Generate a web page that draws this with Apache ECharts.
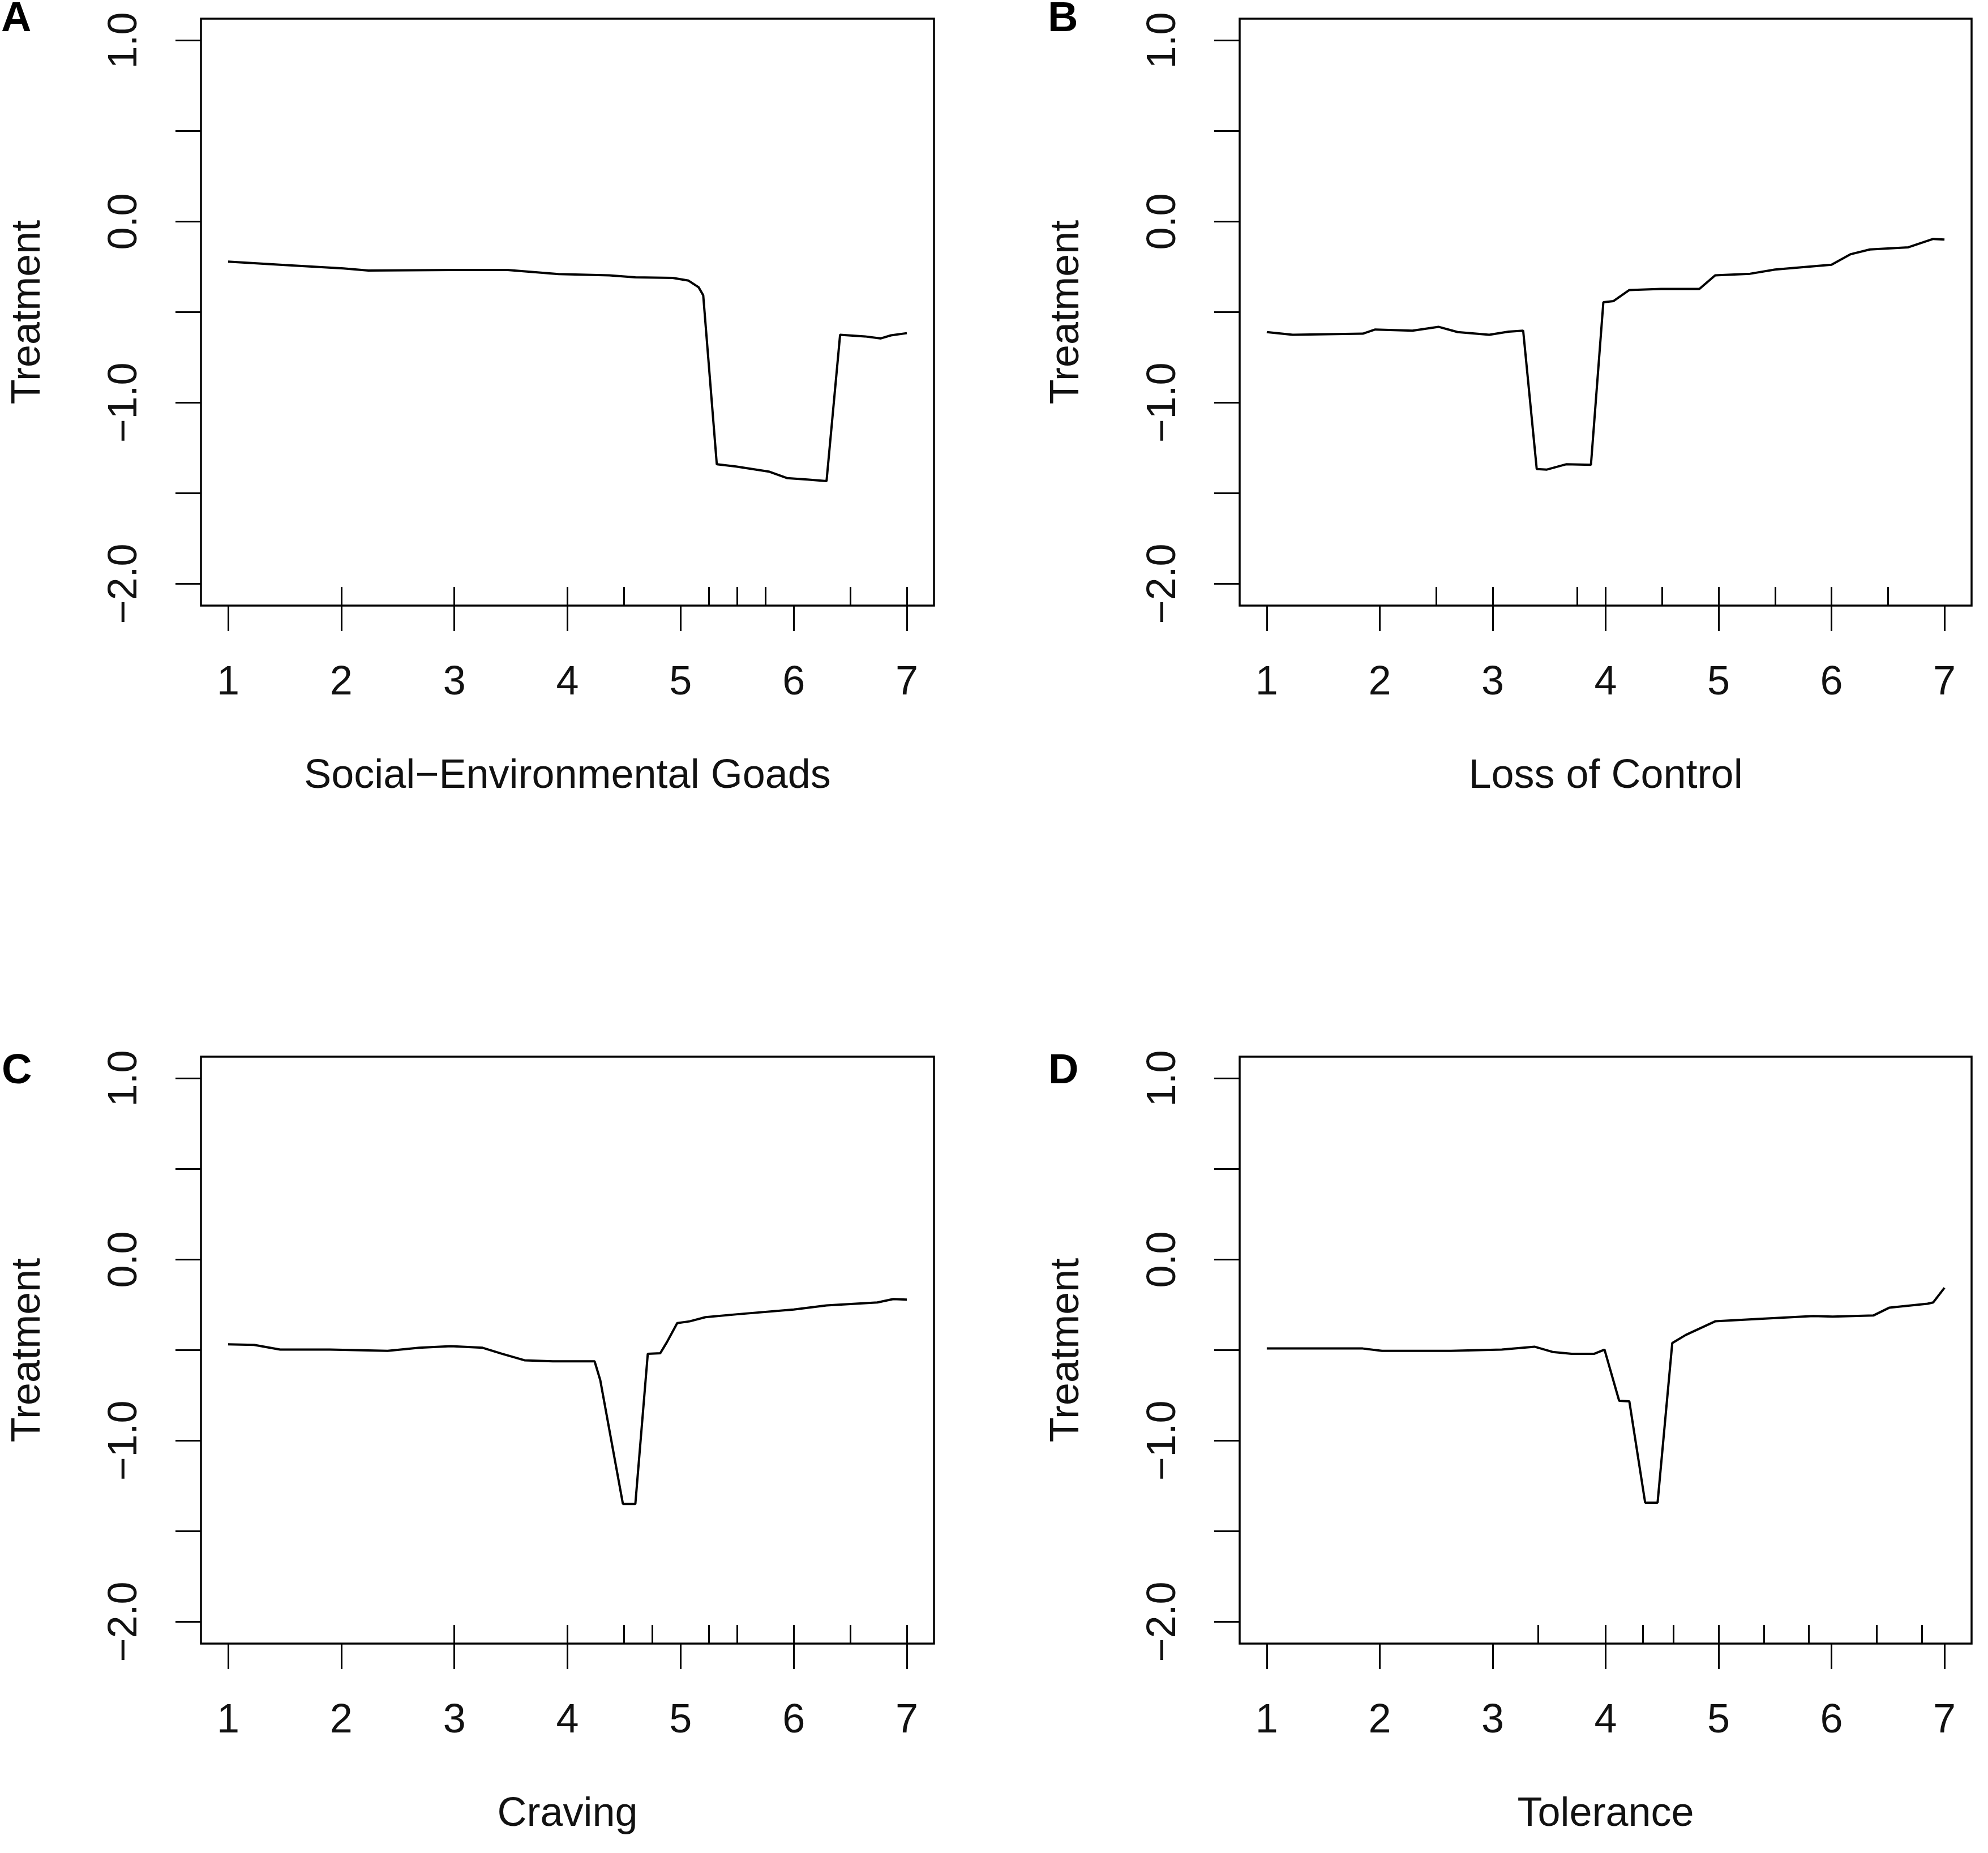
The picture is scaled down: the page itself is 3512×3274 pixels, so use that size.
<!DOCTYPE html>
<html>
<head>
<meta charset="utf-8">
<script src="https://cdn.jsdelivr.net/npm/echarts@6/dist/echarts.min.js"></script>
<style>
html,body{margin:0;padding:0;background:#fff;}
#chart{width:3512px;height:3274px;}
</style>
</head>
<body>
<div id="chart"></div>
<script>
// ---- Data ----
const xTicks = [1, 2, 3, 4, 5, 6, 7];
const yTicks = [-2, -1.5, -1, -0.5, 0, 0.5, 1];
const yTickLabels = [-2, -1, 0, 1];

const panelLetters = ['A', 'B', 'C', 'D'];
const xNames = ['Social\u2212Environmental Goads', 'Loss of Control', 'Craving', 'Tolerance'];
const yName = 'Treatment';

// Panel A: Social-Environmental Goads
const aX = [1.0, 1.5, 2.02, 2.24, 3.0, 3.47, 3.92, 4.37, 4.6, 4.93, 5.07, 5.16, 5.2, 5.32, 5.49, 5.78, 5.94, 6.12, 6.29, 6.41, 6.63, 6.77, 6.86, 7.0];
const aY = [-0.221, -0.24, -0.259, -0.27, -0.267, -0.267, -0.29, -0.297, -0.308, -0.311, -0.326, -0.363, -0.407, -1.34, -1.352, -1.38, -1.416, -1.424, -1.433, -0.625, -0.634, -0.645, -0.628, -0.616];
const aRug = [2, 3, 4, 4.5, 5.25, 5.5, 5.75, 6.5, 7];

// Panel B: Loss of Control
const bX = [1.0, 1.23, 1.85, 1.96, 2.29, 2.52, 2.69, 2.97, 3.14, 3.27, 3.39, 3.48, 3.65, 3.87, 3.98, 4.07, 4.21, 4.49, 4.83, 4.97, 5.28, 5.5, 5.72, 6.0, 6.17, 6.34, 6.68, 6.9, 7.0];
const bY = [-0.61, -0.625, -0.619, -0.596, -0.602, -0.581, -0.61, -0.625, -0.608, -0.602, -1.366, -1.369, -1.34, -1.343, -0.445, -0.439, -0.378, -0.372, -0.372, -0.297, -0.288, -0.265, -0.253, -0.238, -0.18, -0.154, -0.142, -0.096, -0.099];
const bRug = [2.5, 3, 3.75, 4, 4.5, 5, 5.5, 6, 6.5];

// Panel C: Craving
const cX = [1.0, 1.23, 1.46, 1.9, 2.41, 2.69, 2.97, 3.25, 3.42, 3.62, 3.87, 4.24, 4.29, 4.49, 4.6, 4.71, 4.82, 4.88, 4.97, 5.08, 5.22, 5.5, 6.0, 6.29, 6.74, 6.88, 7.0];
const cY = [-0.468, -0.471, -0.497, -0.497, -0.504, -0.487, -0.478, -0.487, -0.52, -0.556, -0.562, -0.562, -0.666, -1.349, -1.349, -0.52, -0.517, -0.455, -0.351, -0.341, -0.318, -0.302, -0.276, -0.253, -0.237, -0.218, -0.221];
const cRug = [3, 4, 4.5, 4.75, 5.25, 5.5, 6, 6.5, 7];

// Panel D: Tolerance
const dX = [1.0, 1.85, 2.02, 2.63, 3.08, 3.37, 3.53, 3.7, 3.9, 3.99, 4.12, 4.21, 4.35, 4.46, 4.59, 4.71, 4.97, 5.34, 5.84, 6.01, 6.37, 6.51, 6.85, 6.9, 7.0];
const dY = [-0.491, -0.491, -0.504, -0.504, -0.497, -0.481, -0.51, -0.52, -0.52, -0.497, -0.78, -0.783, -1.342, -1.342, -0.461, -0.416, -0.341, -0.328, -0.312, -0.315, -0.309, -0.266, -0.244, -0.237, -0.156];
const dRug = [3.4, 4, 4.33, 4.6, 5, 5.4, 5.8, 6.4, 6.8];

const panelXs = [aX, bX, cX, dX];
const panelYs = [aY, bY, cY, dY];
const panelRugs = [aRug, bRug, cRug, dRug];

// ---- Layout ----
const grids = [
  {left: 355, top: 33, width: 1295, height: 1037},
  {left: 2190, top: 33, width: 1293, height: 1037},
  {left: 355, top: 1867, width: 1295, height: 1037},
  {left: 2190, top: 1867, width: 1293, height: 1037}
];
const letterPos = [[2, 35], [1851, 35], [3, 1894], [1852, 1894]];

const FONT = 'Liberation Sans, Arial, sans-serif';
const INK = '#111';

const option = {
  backgroundColor: '#fff',
  animation: false,
  grid: [],
  xAxis: [],
  yAxis: [],
  series: [],
  graphic: []
};

for (let i = 0; i < 4; i++) {
  const g = grids[i];
  option.grid.push(Object.assign({
    show: true, borderColor: '#000', borderWidth: 3.5, backgroundColor: 'transparent', containLabel: false
  }, g));
  // main x axis: ticks 1..7 outward with labels
  option.xAxis.push({
    type: 'value', gridIndex: i, min: 0.76, max: 7.24, position: 'bottom',
    axisLine: {show: false, onZero: false},
    axisTick: {show: true, inside: false, length: 45, customValues: xTicks, lineStyle: {color: '#000', width: 3}},
    axisLabel: {show: true, customValues: xTicks, margin: 101, fontSize: 72, fontFamily: FONT, color: INK, formatter: v => String(v)},
    splitLine: {show: false},
    name: xNames[i], nameLocation: 'middle', nameGap: 266,
    nameTextStyle: {fontSize: 72, fontFamily: FONT, color: INK}
  });
  // rug axis: inside ticks at deciles
  option.xAxis.push({
    type: 'value', gridIndex: i, min: 0.76, max: 7.24, position: 'bottom',
    axisLine: {show: false, onZero: false},
    axisTick: {show: true, inside: true, length: 33, customValues: panelRugs[i], lineStyle: {color: '#000', width: 3}},
    axisLabel: {show: false},
    splitLine: {show: false}
  });
  option.yAxis.push({
    type: 'value', gridIndex: i, min: -2.12, max: 1.12, position: 'left',
    axisLine: {show: false, onZero: false},
    axisTick: {show: true, inside: false, length: 45, customValues: yTicks, lineStyle: {color: '#000', width: 3}},
    axisLabel: {show: true, customValues: yTickLabels, rotate: 90, margin: 98, fontSize: 72, fontFamily: FONT, color: INK,
      formatter: v => (v < 0 ? '\u2212' : '') + Math.abs(v).toFixed(1)},
    splitLine: {show: false},
    name: yName, nameLocation: 'middle', nameRotate: 90, nameGap: 269,
    nameTextStyle: {fontSize: 72, fontFamily: FONT, color: INK}
  });
  const xs = panelXs[i], ys = panelYs[i];
  option.series.push({
    type: 'line', xAxisIndex: i * 2, yAxisIndex: i,
    data: xs.map((x, k) => [x, ys[k]]),
    showSymbol: false, symbol: 'none', smooth: false,
    lineStyle: {color: '#000', width: 4},
    silent: true
  });
  option.graphic.push({
    type: 'text', left: letterPos[i][0], top: letterPos[i][1] - 37,
    style: {text: panelLetters[i], fontSize: 74, fontWeight: 'bold', fontFamily: FONT, fill: '#000'}
  });
}

const chart = echarts.init(document.getElementById('chart'), null, {width: 3512, height: 3274});
chart.setOption(option);
</script>
</body>
</html>
